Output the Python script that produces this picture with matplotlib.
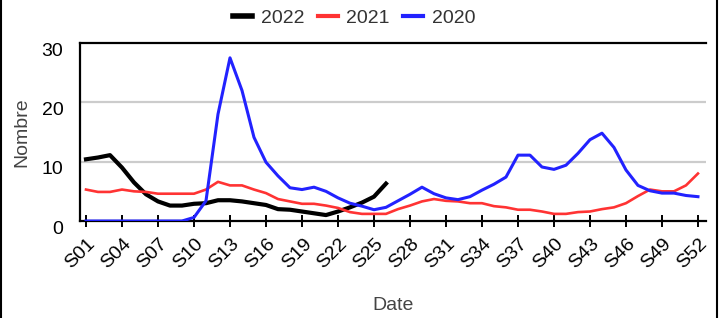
import matplotlib.pyplot as plt
import matplotlib.transforms as mtransforms
from matplotlib.lines import Line2D

plt.rcParams['font.family'] = ['Liberation Sans', 'DejaVu Sans']

# week labels S01..S52
weeks = ["S%02d" % i for i in range(1, 53)]

# 2022 (only up to S26)
v2022 = [10.4, 10.7, 11.1, 9.0, 6.5, 4.5, 3.3, 2.6, 2.6, 2.9,
         3.0, 3.5, 3.5, 3.3, 3.0, 2.7, 2.0, 1.9, 1.6, 1.3,
         1.0, 1.6, 2.3, 3.1, 4.1, 6.3]

v2021 = [5.3, 4.9, 4.9, 5.3, 5.0, 4.9, 4.6, 4.6, 4.6, 4.6,
         5.3, 6.6, 6.0, 6.0, 5.3, 4.7, 3.7, 3.3, 2.9, 2.9,
         2.6, 2.2, 1.5, 1.2, 1.2, 1.2, 2.0, 2.6, 3.3, 3.7,
         3.4, 3.3, 3.0, 3.0, 2.5, 2.3, 1.9, 1.9, 1.6, 1.2,
         1.2, 1.5, 1.6, 2.0, 2.3, 3.0, 4.2, 5.3, 5.0, 5.0,
         6.0, 8.0]

v2020 = [0, 0, 0, 0, 0, 0, 0, 0, 0, 0.6,
         3.4, 18.0, 27.5, 22.0, 14.1, 9.9, 7.6, 5.6, 5.3, 5.7,
         5.0, 3.9, 3.0, 2.5, 1.9, 2.3, 3.4, 4.5, 5.7, 4.6,
         3.9, 3.6, 4.1, 5.2, 6.2, 7.4, 11.1, 11.1, 9.1, 8.7,
         9.4, 11.4, 13.7, 14.8, 12.4, 8.6, 6.0, 5.1, 4.7, 4.7,
         4.3, 4.1]

series_names = ["2022", "2021", "2020"]
series_colors = ["#000000", "#ff3333", "#2222ff"]

fig = plt.figure(figsize=(7.19, 3.18), dpi=100)
ax = fig.add_axes([80 / 719, 1 - 221 / 318, 626 / 719, 178 / 318])

ax.plot(weeks[:len(v2022)], v2022, color=series_colors[0], lw=3.0,
        solid_joinstyle='round', zorder=3)
ax.plot(weeks, v2021, color=series_colors[1], lw=1.9, zorder=4)
ax.plot(weeks, v2020, color=series_colors[2], lw=2.2, zorder=5)

ax.set_xlim(-0.5, 51.67)
ax.set_ylim(0, 30)
ax.set_yticks([0, 10, 20, 30])
for y in (10, 20):
    ax.axhline(y, color='#cccccc', lw=1.6, zorder=1)

ax.set_xticks(range(0, 52, 3))
ax.set_xticklabels(weeks[::3], rotation=45, ha='right', va='center',
                   rotation_mode='anchor', fontsize=14)
ax.tick_params(axis='x', direction='inout', length=9, width=1.4,
               color='black', pad=10)
ax.tick_params(axis='y', length=0, labelsize=14, pad=12)

# shift labels a bit (x labels right, y labels down) like the original
dx = mtransforms.ScaledTranslation(7 / 100, 0, fig.dpi_scale_trans)
for lab in ax.get_xticklabels():
    lab.set_transform(lab.get_transform() + dx)
dy = mtransforms.ScaledTranslation(0, -6 / 100, fig.dpi_scale_trans)
for lab in ax.get_yticklabels():
    lab.set_transform(lab.get_transform() + dy)

ax.spines['right'].set_visible(False)
for s in ['left', 'bottom', 'top']:
    ax.spines[s].set_linewidth(1.6)
    ax.spines[s].set_color('black')

ax.set_ylabel("Nombre", fontsize=14, color='#444444', labelpad=8)
ax.set_xlabel("Date", fontsize=14, color='#444444', labelpad=18)

handles = [Line2D([], [], color=c, lw=w) for c, w in zip(series_colors, [4, 3, 3])]
fig.legend(handles, series_names, loc='center', bbox_to_anchor=(354 / 719, 1 - 18 / 318),
           ncol=3, frameon=False, fontsize=14, handlelength=1.0,
           handletextpad=0.45, columnspacing=0.7, labelcolor='#333333')

# outer border lines (left and right)
fig.add_artist(Line2D([1 / 719, 1 / 719], [0, 1], color='black', lw=1.5,
                      transform=fig.transFigure))
fig.add_artist(Line2D([717 / 719, 717 / 719], [0, 1], color='black', lw=1.5,
                      transform=fig.transFigure))

plt.savefig("out.png", dpi=100)
